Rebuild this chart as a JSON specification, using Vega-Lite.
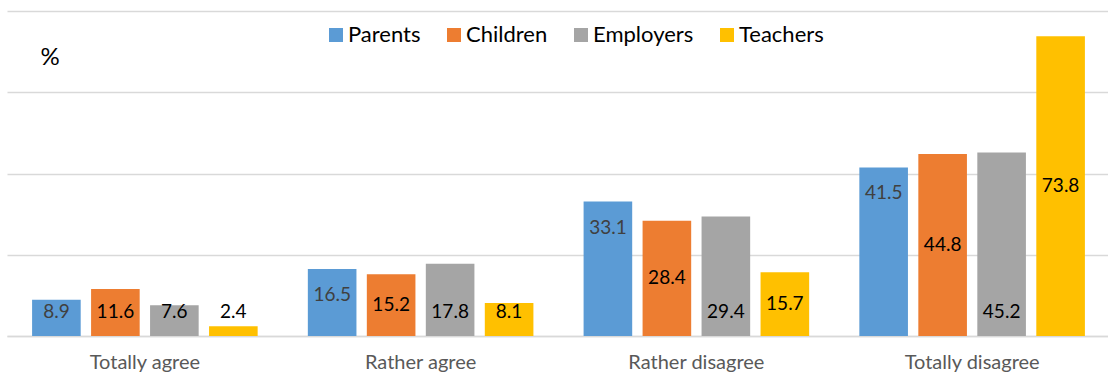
{
  "$schema": "https://vega.github.io/schema/vega-lite/v6.json",
  "width": 1103,
  "height": 325,
  "autosize": {"type": "none"},
  "padding": {"left": 7, "top": 11, "right": 0, "bottom": 40},
  "config": {
    "view": {"stroke": null},
    "font": "Lato",
    "axisY": {
      "grid": true,
      "gridColor": "#d9d9d9",
      "gridWidth": 1.3,
      "domain": false,
      "ticks": false,
      "labels": false,
      "titleAngle": 0,
      "titleAlign": "left",
      "titleBaseline": "middle",
      "titleX": 33,
      "titleY": 46,
      "titleFontSize": 24,
      "titleFontWeight": "normal",
      "titleColor": "#000000"
    },
    "axisX": {
      "domainColor": "#d9d9d9",
      "domainWidth": 1.3,
      "ticks": false,
      "labelAngle": 0,
      "labelColor": "#595959",
      "labelFontSize": 20,
      "labelPadding": 16
    },
    "legend": {
      "padding": 0
    }
  },
  "data": {
    "values": [
      {"cat": "Totally agree", "series": "Parents", "value": 8.9},
      {"cat": "Totally agree", "series": "Children", "value": 11.6},
      {"cat": "Totally agree", "series": "Employers", "value": 7.6},
      {"cat": "Totally agree", "series": "Teachers", "value": 2.4},
      {"cat": "Rather agree", "series": "Parents", "value": 16.5},
      {"cat": "Rather agree", "series": "Children", "value": 15.2},
      {"cat": "Rather agree", "series": "Employers", "value": 17.8},
      {"cat": "Rather agree", "series": "Teachers", "value": 8.1},
      {"cat": "Rather disagree", "series": "Parents", "value": 33.1},
      {"cat": "Rather disagree", "series": "Children", "value": 28.4},
      {"cat": "Rather disagree", "series": "Employers", "value": 29.4},
      {"cat": "Rather disagree", "series": "Teachers", "value": 15.7},
      {"cat": "Totally disagree", "series": "Parents", "value": 41.5},
      {"cat": "Totally disagree", "series": "Children", "value": 44.8},
      {"cat": "Totally disagree", "series": "Employers", "value": 45.2},
      {"cat": "Totally disagree", "series": "Teachers", "value": 73.8}
    ]
  },
  "encoding": {
    "x": {
      "field": "cat",
      "type": "nominal",
      "title": null,
      "sort": ["Totally agree", "Rather agree", "Rather disagree", "Totally disagree"],
      "scale": {"paddingInner": 0.182, "paddingOuter": 0.091}
    },
    "xOffset": {
      "field": "series",
      "type": "nominal",
      "sort": ["Parents", "Children", "Employers", "Teachers"],
      "scale": {"paddingInner": 0.176, "paddingOuter": 0}
    }
  },
  "layer": [
    {
      "mark": {"type": "bar"},
      "encoding": {
        "y": {
          "field": "value",
          "type": "quantitative",
          "title": "%",
          "scale": {"domain": [0, 80], "nice": false},
          "axis": {"values": [0, 20, 40, 60, 80]}
        },
        "color": {
          "field": "series",
          "type": "nominal",
          "sort": ["Parents", "Children", "Employers", "Teachers"],
          "scale": {
            "domain": ["Parents", "Children", "Employers", "Teachers"],
            "range": ["#5B9BD5", "#ED7D31", "#A5A5A5", "#FFC000"]
          },
          "legend": {
            "title": null,
            "orient": "none",
            "direction": "horizontal",
            "legendX": 318,
            "legendY": 13,
            "symbolType": "square",
            "symbolSize": 196,
            "symbolStrokeWidth": 0,
            "symbolOpacity": 1,
            "labelFontSize": 22,
            "labelColor": "#000000",
            "labelOffset": 1,
            "columnPadding": 22
          }
        }
      }
    },
    {
      "transform": [
        {
          "calculate": "datum.series === 'Parents' ? max(datum.value - 6.4, 5.8) : (datum.series === 'Employers' ? 5.8 : max(datum.value / 2, 5.8))",
          "as": "labelY"
        }
      ],
      "mark": {"type": "text", "fontSize": 19, "baseline": "middle"},
      "encoding": {
        "y": {"field": "labelY", "type": "quantitative", "title": "%", "axis": {"values": [0, 20, 40, 60, 80]}},
        "text": {"field": "value", "type": "quantitative", "format": ".1f"},
        "color": {
          "condition": {"test": "datum.series === 'Parents'", "value": "#404040"},
          "value": "#000000"
        }
      }
    }
  ]
}
